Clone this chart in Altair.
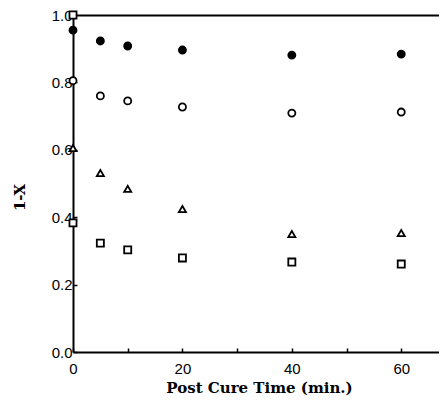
import altair as alt
import pandas as pd

time = [0, 5, 10, 20, 40, 60]
filled_circle = [0.955, 0.923, 0.908, 0.896, 0.881, 0.884]
open_circle = [0.805, 0.760, 0.745, 0.727, 0.709, 0.712]
triangle = [0.605, 0.531, 0.484, 0.424, 0.350, 0.353]
square = [0.383, 0.323, 0.303, 0.279, 0.267, 0.261]
square_start = [1.0]

rows = []
for name, vals in [("A", filled_circle), ("B", open_circle), ("C", triangle), ("D", square)]:
    for t, v in zip(time, vals):
        rows.append({"t": t, "y": v, "s": name})
rows.append({"t": 0, "y": square_start[0], "s": "D"})
df = pd.DataFrame(rows)

xscale = alt.Scale(domain=[0, 66.9], nice=False, zero=False)
yscale = alt.Scale(domain=[0, 1.0], nice=False)
inward = {"expr": "-4"}

pts = alt.Chart(df).mark_point(size=50, strokeWidth=1.8, opacity=1, fillOpacity=1, stroke="black", clip=False).encode(
    x=alt.X("t:Q", scale=xscale, axis=alt.Axis(
        values=[0, 10, 20, 30, 40, 50, 60], labelExpr="datum.value % 20 == 0 ? datum.label : ''",
        title="Post Cure Time (min.)", grid=False, tickSize=inward, tickColor="black", tickWidth=1.5,
        domainColor="black", domainWidth=2, labelFont="Liberation Sans", labelFontSize=15,
        labelColor="black", labelPadding=13, labelFlush=False, titleFont="DejaVu Serif", titleFontSize=15,
        titleFontWeight="bold", titleColor="black", titlePadding=4, titleX=186)),
    y=alt.Y("y:Q", scale=yscale, axis=alt.Axis(
        values=[0, 0.2, 0.4, 0.6, 0.8, 1.0], format=".1f", title="1-X", grid=False,
        tickSize=inward, tickColor="black", tickWidth=1.5, domainColor="black", domainWidth=2,
        labelFont="Liberation Sans", labelFontSize=15, labelColor="black", labelPadding=5,
        labelFlush=False, titleFont="DejaVu Serif", titleFontSize=15, titleFontWeight="bold",
        titleColor="black", titlePadding=24, titleY=182)),
    shape=alt.Shape("s:N", scale=alt.Scale(domain=["A", "B", "C", "D"],
                    range=["circle", "circle", "triangle-up", "square"]), legend=None),
    fill=alt.Fill("s:N", scale=alt.Scale(domain=["A", "B", "C", "D"],
                  range=["black", "white", "white", "white"]), legend=None),
)

top = alt.Chart(df).mark_point(opacity=0).encode(
    x=alt.X("t:Q", scale=xscale, axis=alt.Axis(orient="top", labels=False, ticks=False, title=None,
            grid=False, domainColor="black", domainWidth=2)),
    y=alt.Y("y:Q", scale=yscale),
)

chart = alt.layer(top, pts).resolve_axis(x="independent").properties(
    width=366, height=337,
    autosize=alt.AutoSizeParams(type="none"),
    padding={"left": 65, "top": 7, "right": 0, "bottom": 50},
).configure_view(stroke=None)

chart.save("out.html", embed_options={"renderer": "svg", "actions": False})
